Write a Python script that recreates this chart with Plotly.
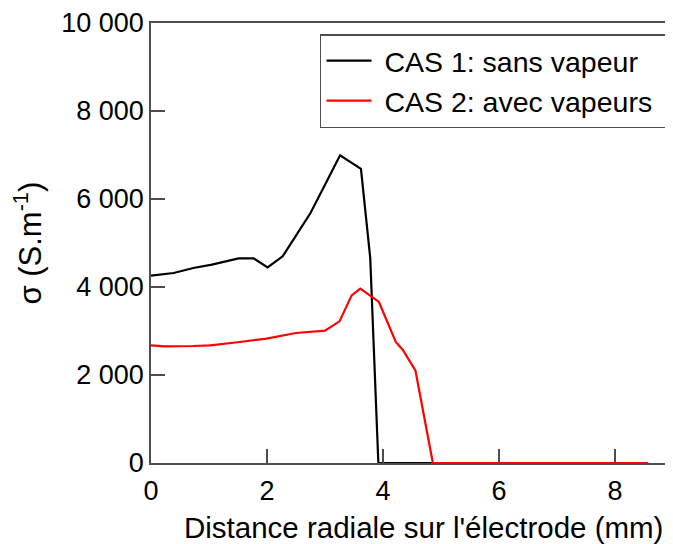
import plotly.graph_objects as go

# CAS 1: sans vapeur
x_cas1 = [0.0, 0.24, 0.39, 0.73, 1.05, 1.51, 1.77, 2.01, 2.27, 2.48, 2.75, 3.0, 3.26, 3.62, 3.78, 3.92, 8.57]
y_cas1 = [4257, 4288, 4318, 4432, 4507, 4651, 4651, 4447, 4697, 5128, 5682, 6326, 6992, 6683, 4659, 0, 0]

# CAS 2: avec vapeurs
x_cas2 = [0.0, 0.24, 0.73, 1.02, 1.53, 1.99, 2.50, 3.0, 3.25, 3.46, 3.61, 3.93, 4.22, 4.34, 4.56, 4.86, 8.57]
y_cas2 = [2674, 2651, 2659, 2674, 2750, 2826, 2955, 3008, 3219, 3810, 3962, 3660, 2750, 2575, 2098, 0, 0]

x_ticks = [0, 2, 4, 6, 8]
y_ticks = [0, 2000, 4000, 6000, 8000, 10000]
y_tick_text = ["0", "2 000", "4 000", "6 000", "8 000", "10 000"]

series_names = ["CAS 1: sans vapeur", "CAS 2: avec vapeurs"]
x_title = "Distance radiale sur l'électrode (mm)"
y_title = "σ (S.m<sup>-1</sup>)"

FONT = "Liberation Sans, Arial, sans-serif"
AX = "#4d4d4d"
NB = "\u00a0"

fig = go.Figure()
fig.add_trace(go.Scatter(x=x_cas1, y=y_cas1, mode="lines", name=NB + series_names[0] + NB,
                         line=dict(color="black", width=2.2)))
fig.add_trace(go.Scatter(x=x_cas2, y=y_cas2, mode="lines", name=NB + series_names[1] + NB,
                         line=dict(color="#ff0000", width=2.2)))

fig.update_layout(
    width=665, height=536,
    margin=dict(l=143, r=0, t=15, b=81),
    paper_bgcolor="white", plot_bgcolor="white",
    font=dict(family=FONT, size=27, color="black"),
    showlegend=True,
    legend=dict(x=0.9885, xanchor="right", y=0.975, yanchor="top",
                bgcolor="white", bordercolor=AX, borderwidth=1.5,
                font=dict(family=FONT, size=28.5, color="black"),
                itemwidth=45, tracegroupgap=0),
    xaxis=dict(range=[0, 9], tickvals=x_ticks, ticktext=[str(v) for v in x_ticks],
               ticks="inside", ticklen=14, tickwidth=1.5, tickcolor=AX,
               showline=True, linecolor=AX, linewidth=1.5, mirror=True,
               showgrid=False, zeroline=False, automargin=False,
               ticklabelstandoff=3,
               tickfont=dict(family=FONT, size=27, color="black")),
    yaxis=dict(range=[0, 10000], tickvals=y_ticks, ticktext=y_tick_text,
               ticks="inside", ticklen=14, tickwidth=1.5, tickcolor=AX,
               showline=True, linecolor=AX, linewidth=1.5, mirror=False,
               showgrid=False, zeroline=False, automargin=False,
               tickfont=dict(family=FONT, size=27, color="black")),
    annotations=[
        dict(text=x_title, xref="paper", yref="paper", x=0.522, y=-0.147,
             xanchor="center", yanchor="middle", showarrow=False,
             font=dict(family=FONT, size=29.5, color="black")),
        dict(text=y_title, xref="paper", yref="paper", x=-0.2365, y=0.5,
             xanchor="center", yanchor="middle", textangle=-90, showarrow=False,
             font=dict(family=FONT, size=31, color="black")),
    ],
)

fig.write_html("out.html")
